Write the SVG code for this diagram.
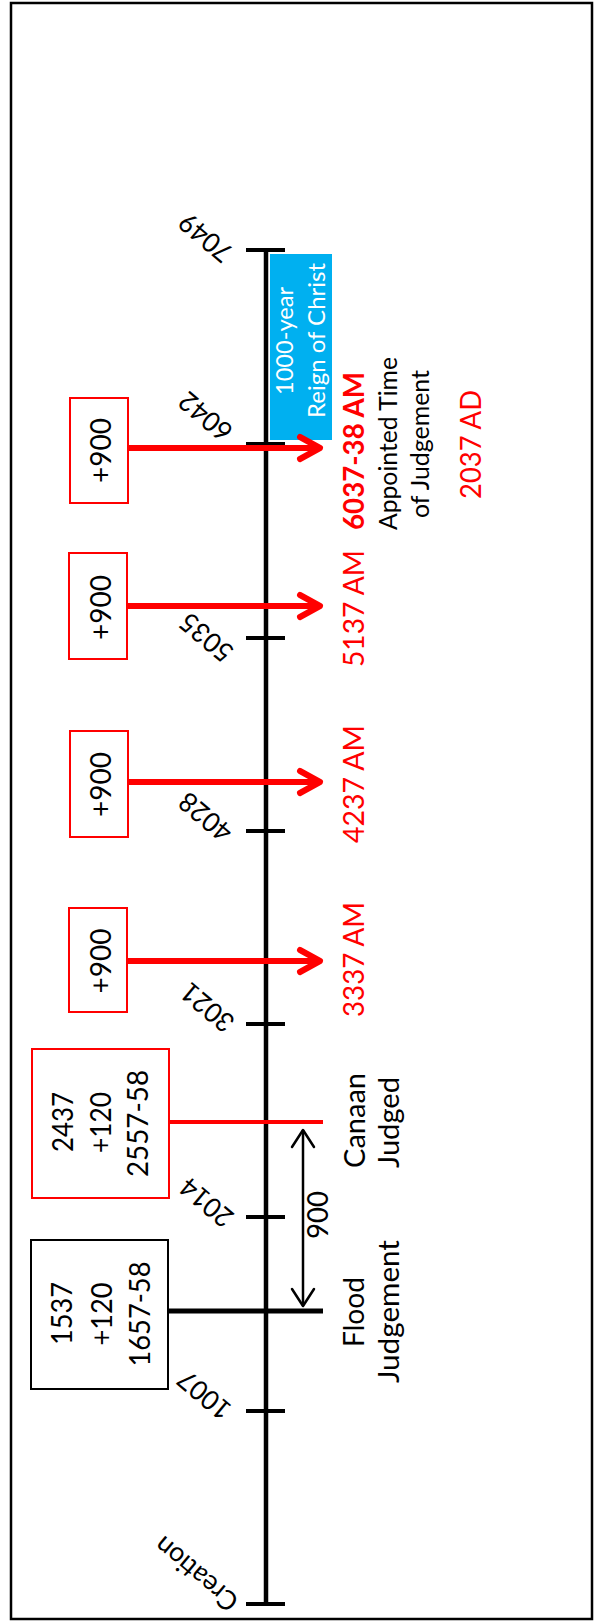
<svg xmlns="http://www.w3.org/2000/svg" width="594" height="1621" viewBox="0 0 594 1621">
  <style>
    text { font-family: Lato, "Liberation Sans", sans-serif; text-anchor: middle; }
    .t { font-size: 28px; fill: #000; }
    .r { font-size: 28px; fill: #ff0000; }
    .rb { font-size: 29px; fill: #ff0000; font-weight: bold; }
    .s { font-size: 25px; fill: #000; }
    .w { font-size: 24px; fill: #ffffff; }
    .tk { font-size: 27px; fill: #000; }
    .box-red { fill: #fff; stroke: #ff0000; stroke-width: 2; }
    .box-blk { fill: #fff; stroke: #000; stroke-width: 2; }
    .axis { stroke: #000; stroke-width: 4.5; fill: none; }
    .tick { stroke: #000; stroke-width: 4; }
    .arr-red { stroke: #ff0000; stroke-width: 6; fill: none; marker-end: url(#ah-red); }
    .dbl { stroke: #000; stroke-width: 2.5; fill: none; marker-start: url(#ah-blk); marker-end: url(#ah-blk); }
  </style>
  <defs>
    <marker id="ah-red" markerUnits="userSpaceOnUse" viewBox="-30 -20 40 40" markerWidth="40" markerHeight="40" refX="0" refY="0" orient="auto" overflow="visible">
      <path d="M-20,-11 L0,0 L-20,11" fill="none" stroke="#ff0000" stroke-width="6" stroke-linejoin="round" stroke-linecap="round"/>
    </marker>
    <marker id="ah-blk" markerUnits="userSpaceOnUse" viewBox="-30 -20 40 40" markerWidth="40" markerHeight="40" refX="0" refY="0" orient="auto-start-reverse" overflow="visible">
      <path d="M-17,-11 L0,0 L-17,11" fill="none" stroke="#000" stroke-width="2.5" stroke-linejoin="round" stroke-linecap="round"/>
    </marker>
  </defs>

  <rect x="0" y="0" width="594" height="1621" fill="#fff"/>
  <rect id="frame" x="11" y="3" width="581" height="1616" fill="none" stroke="#000" stroke-width="2.5"/>

  <!-- timeline axis -->
  <g id="timeline">
    <line class="axis" x1="266" y1="250" x2="266" y2="1604"/>
    <line class="tick" x1="246" y1="250" x2="285" y2="250"/>
    <line class="tick" x1="246" y1="444" x2="285" y2="444"/>
    <line class="tick" x1="246" y1="638" x2="285" y2="638"/>
    <line class="tick" x1="246" y1="831" x2="285" y2="831"/>
    <line class="tick" x1="246" y1="1024" x2="285" y2="1024"/>
    <line class="tick" x1="246" y1="1217" x2="285" y2="1217"/>
    <line class="tick" x1="246" y1="1411" x2="285" y2="1411"/>
    <line class="tick" x1="246" y1="1604" x2="285" y2="1604"/>
    <text class="tk" transform="translate(205.5,237.5) rotate(-140)" dy="0.35em" textLength="60" lengthAdjust="spacingAndGlyphs">7049</text>
    <text class="tk" transform="translate(205.5,416.5) rotate(-140)" dy="0.35em" textLength="60" lengthAdjust="spacingAndGlyphs">6042</text>
    <text class="tk" transform="translate(206.5,637.5) rotate(-140)" dy="0.35em" textLength="60" lengthAdjust="spacingAndGlyphs">5035</text>
    <text class="tk" transform="translate(205.5,817) rotate(-140)" dy="0.35em" textLength="60" lengthAdjust="spacingAndGlyphs">4028</text>
    <text class="tk" transform="translate(207.5,1007.5) rotate(-140)" dy="0.35em" textLength="60" lengthAdjust="spacingAndGlyphs">3021</text>
    <text class="tk" transform="translate(206.5,1202.5) rotate(-140)" dy="0.35em" textLength="60" lengthAdjust="spacingAndGlyphs">2014</text>
    <text class="tk" transform="translate(204.5,1395) rotate(-140)" dy="0.35em" textLength="60" lengthAdjust="spacingAndGlyphs">1007</text>
    <text class="tk" transform="translate(197,1573) rotate(-140)" dy="0.3em" textLength="100" lengthAdjust="spacingAndGlyphs">Creation</text>
  </g>

  <!-- millennium reign -->
  <g id="reign">
    <rect x="270" y="254" width="62" height="186" fill="#00b0f0"/>
    <text class="w" transform="translate(293,341) rotate(-90)" textLength="108" lengthAdjust="spacingAndGlyphs">1000-year</text>
    <text class="w" transform="translate(325,340.5) rotate(-90)" textLength="155" lengthAdjust="spacingAndGlyphs">Reign of Christ</text>
  </g>

  <!-- connectors -->
  <g id="connectors">
    <path class="arr-red" d="M128,448 H320"/>
    <path class="arr-red" d="M127,606 H320"/>
    <path class="arr-red" d="M128,782 H320"/>
    <path class="arr-red" d="M128,961 H320"/>
    <line x1="169" y1="1122" x2="323" y2="1122" stroke="#ff0000" stroke-width="4"/>
    <line x1="168" y1="1311" x2="323" y2="1311" stroke="#000" stroke-width="5"/>
    <path class="dbl" d="M303,1130 V1306"/>
    <text class="t" transform="translate(328,1215) rotate(-90)" textLength="48" lengthAdjust="spacingAndGlyphs">900</text>
  </g>

  <!-- +900 boxes -->
  <g id="box-6037">
    <rect class="box-red" x="70" y="398" width="58" height="105"/>
    <text class="t" transform="translate(111,450.5) rotate(-90)" textLength="65" lengthAdjust="spacingAndGlyphs">+900</text>
  </g>
  <g id="box-5137">
    <rect class="box-red" x="69" y="553" width="58" height="106"/>
    <text class="t" transform="translate(111,607.5) rotate(-90)" textLength="65" lengthAdjust="spacingAndGlyphs">+900</text>
  </g>
  <g id="box-4237">
    <rect class="box-red" x="70" y="731" width="58" height="106"/>
    <text class="t" transform="translate(111,784.5) rotate(-90)" textLength="65" lengthAdjust="spacingAndGlyphs">+900</text>
  </g>
  <g id="box-3337">
    <rect class="box-red" x="69" y="908" width="58" height="104"/>
    <text class="t" transform="translate(111,961) rotate(-90)" textLength="65" lengthAdjust="spacingAndGlyphs">+900</text>
  </g>

  <!-- Canaan box -->
  <g id="box-canaan">
    <rect class="box-red" x="32" y="1049" width="137" height="149"/>
    <text class="t" transform="translate(73,1122) rotate(-90)" textLength="60" lengthAdjust="spacingAndGlyphs">2437</text>
    <text class="t" transform="translate(111,1122.5) rotate(-90)" textLength="61" lengthAdjust="spacingAndGlyphs">+120</text>
    <text class="t" transform="translate(148,1123.5) rotate(-90)" textLength="107" lengthAdjust="spacingAndGlyphs">2557-58</text>
  </g>

  <!-- Flood box -->
  <g id="box-flood">
    <rect class="box-blk" x="31" y="1240" width="137" height="149"/>
    <text class="t" transform="translate(72,1313.5) rotate(-90)" textLength="63" lengthAdjust="spacingAndGlyphs">1537</text>
    <text class="t" transform="translate(112,1314) rotate(-90)" textLength="63" lengthAdjust="spacingAndGlyphs">+120</text>
    <text class="t" transform="translate(150,1314) rotate(-90)" textLength="105" lengthAdjust="spacingAndGlyphs">1657-58</text>
  </g>

  <!-- right-side labels -->
  <g id="label-6037">
    <text class="rb" transform="translate(364,451) rotate(-90)" textLength="158" lengthAdjust="spacingAndGlyphs">6037-38 AM</text>
    <text class="s" transform="translate(397,443.5) rotate(-90)" textLength="173" lengthAdjust="spacingAndGlyphs">Appointed Time</text>
    <text class="s" transform="translate(429,444) rotate(-90)" textLength="148" lengthAdjust="spacingAndGlyphs">of Judgement</text>
    <text class="r" transform="translate(481,444.5) rotate(-90)" textLength="109" lengthAdjust="spacingAndGlyphs">2037 AD</text>
  </g>
  <g id="label-5137">
    <text class="r" transform="translate(364,608.5) rotate(-90)" textLength="117" lengthAdjust="spacingAndGlyphs">5137 AM</text>
  </g>
  <g id="label-4237">
    <text class="r" transform="translate(364,784) rotate(-90)" textLength="118" lengthAdjust="spacingAndGlyphs">4237 AM</text>
  </g>
  <g id="label-3337">
    <text class="r" transform="translate(364,959.5) rotate(-90)" textLength="115" lengthAdjust="spacingAndGlyphs">3337 AM</text>
  </g>
  <g id="label-canaan">
    <text class="t" transform="translate(365,1120.5) rotate(-90)" textLength="95" lengthAdjust="spacingAndGlyphs">Canaan</text>
    <text class="t" transform="translate(399,1122.5) rotate(-90)" textLength="91" lengthAdjust="spacingAndGlyphs">Judged</text>
  </g>
  <g id="label-flood">
    <text class="t" transform="translate(364,1312) rotate(-90)" textLength="70" lengthAdjust="spacingAndGlyphs">Flood</text>
    <text class="t" transform="translate(399,1311.5) rotate(-90)" textLength="143" lengthAdjust="spacingAndGlyphs">Judgement</text>
  </g>
</svg>
